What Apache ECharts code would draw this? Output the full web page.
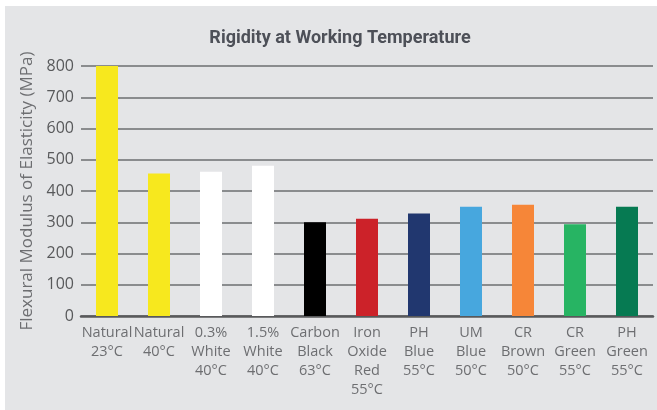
<!DOCTYPE html>
<html>
<head>
<meta charset="utf-8">
<script src="https://cdn.jsdelivr.net/npm/echarts@6/dist/echarts.min.js"></script>
<style>
html,body{margin:0;padding:0;background:#ffffff;}
#bg{position:absolute;left:5px;top:6px;width:652px;height:404px;background:#e4e5e7;}
#chart{position:absolute;left:0;top:0;width:657px;height:410px;}
</style>
</head>
<body>
<div id="bg"></div>
<div id="chart"></div>
<script>
const categories = [
  "Natural\n23°C",
  "Natural\n40°C",
  "0.3%\nWhite\n40°C",
  "1.5%\nWhite\n40°C",
  "Carbon\nBlack\n63°C",
  "Iron\nOxide\nRed\n55°C",
  "PH\nBlue\n55°C",
  "UM\nBlue\n50°C",
  "CR\nBrown\n50°C",
  "CR\nGreen\n55°C",
  "PH\nGreen\n55°C"
];
const values = [800, 456, 462, 481, 300, 311, 328, 350, 356, 294, 350];
const barColors = ["#f7e81e", "#f7e81e", "#ffffff", "#ffffff", "#000000", "#cc2229", "#21376f", "#47a7de", "#f68638", "#27b463", "#067a52"];
const yTicks = { min: 0, max: 800, interval: 100 };

const chart = echarts.init(document.getElementById('chart'));
chart.setOption({
  backgroundColor: 'transparent',
  animation: false,
  title: {
    text: 'Rigidity at Working Temperature',
    left: 335, top: 24, textAlign: 'center',
    textStyle: { fontFamily: 'Roboto', fontWeight: 'bold', fontSize: 18, color: '#4d5058' }
  },
  grid: { left: 81, right: 4, top: 66, bottom: 94 },
  xAxis: {
    type: 'category',
    data: categories,
    axisTick: { show: false },
    axisLine: { lineStyle: { color: '#58595b', width: 2.5 } },
    axisLabel: {
      interval: 0, margin: 7, fontFamily: 'Open Sans', fontSize: 14.5, lineHeight: 19,
      color: '#6d6e71'
    }
  },
  yAxis: {
    type: 'value',
    min: yTicks.min, max: yTicks.max, interval: yTicks.interval,
    name: 'Flexural Modulus of Elasticity (MPa)',
    nameLocation: 'middle', nameGap: 44,
    nameTextStyle: { fontFamily: 'Open Sans', fontSize: 17, color: '#6d6e71' },
    axisLine: { show: false },
    axisTick: { show: false },
    axisLabel: { fontFamily: 'Open Sans', fontSize: 16, color: '#58595b', margin: 7 },
    splitLine: { lineStyle: { color: '#6d6e71', width: 1.5 } }
  },
  series: [{
    type: 'bar',
    data: values.map((v, i) => ({ value: v, itemStyle: { color: barColors[i] } })),
    barWidth: 22
  }]
});
</script>
</body>
</html>
